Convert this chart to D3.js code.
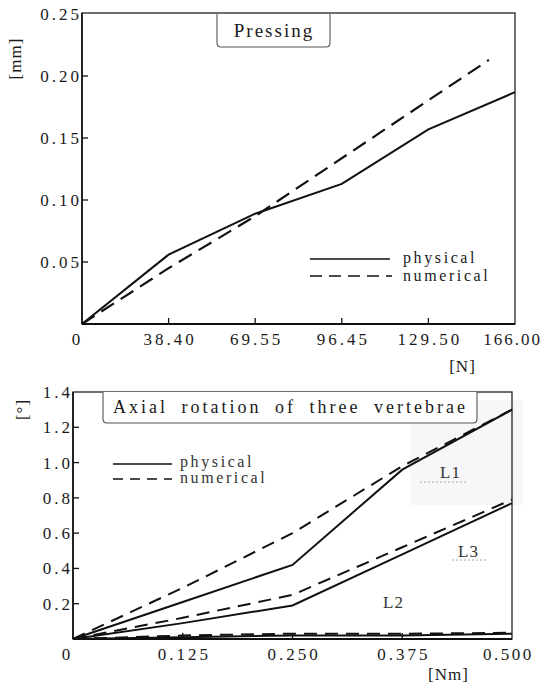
<!DOCTYPE html>
<html><head><meta charset="utf-8">
<script src="https://cdn.jsdelivr.net/npm/d3@7"></script>
<style>
html,body{margin:0;padding:0;background:#fff;}
text{font-family:"Liberation Serif","Times New Roman",serif;fill:#1a1a1a;}
</style></head>
<body>
<svg id="c" width="542" height="686"></svg>
<script>
// ---------- Top chart data (Pressing) ----------
const topXTicks = [0, 38.40, 69.55, 96.45, 129.50, 166.00];
const topXTickLabels = ["0", "38.40", "69.55", "96.45", "129.50", "166.00"];
const topYTicks = [0.05, 0.10, 0.15, 0.20, 0.25];
const topYTickLabels = ["0.05", "0.10", "0.15", "0.20", "0.25"];
const topPhysX = [0, 38.40, 69.55, 96.45, 129.50, 166.00];
const topPhysY = [0, 0.056, 0.089, 0.113, 0.157, 0.187];
const topNumX = [0, 38.40, 69.55, 155.0];
const topNumY = [0, 0.045, 0.087, 0.213];

// ---------- Bottom chart data (Axial rotation) ----------
const botXTicks = [0, 0.125, 0.250, 0.375, 0.500];
const botXTickLabels = ["0", "0.125", "0.250", "0.375", "0.500"];
const botYTicks = [0.2, 0.4, 0.6, 0.8, 1.0, 1.2, 1.4];
const botYTickLabels = ["0.2", "0.4", "0.6", "0.8", "1.0", "1.2", "1.4"];
const botX = [0, 0.125, 0.250, 0.375, 0.500];
const L1phys = [0, 0.21, 0.42, 0.96, 1.30];
const L1num  = [0, 0.29, 0.60, 0.98, 1.30];
const L3phys = [0, 0.09, 0.19, 0.48, 0.77];
const L3num  = [0, 0.12, 0.25, 0.52, 0.79];
const L2phys = [0, 0.01, 0.02, 0.02, 0.03];
const L2num  = [0, 0.02, 0.03, 0.03, 0.035];

const svg = d3.select("#c");
const LS = 3; // letter spacing of numbers

function txt(g, x, y, s, opt = {}) {
  const ls = opt.ls ?? LS;
  let dx = 0;
  if (opt.anchor === "end") dx = ls;
  if (opt.anchor === "middle") dx = ls / 2;
  return g.append("text").attr("x", x + dx).attr("y", y)
    .attr("text-anchor", opt.anchor || "start")
    .style("font-size", (opt.size || 17) + "px")
    .style("letter-spacing", ls + "px")
    .style("word-spacing", (opt.ws || 0) + "px")
    .text(s);
}

function drawLine(g, xs, ys, x, y, dashed, w) {
  const pts = xs.map((d, i) => [d, ys[i]]);
  g.append("path").datum(pts)
    .attr("d", d3.line().x(d => x(d[0])).y(d => y(d[1])))
    .attr("fill", "none").attr("stroke", "#111")
    .attr("stroke-width", w || 2)
    .attr("stroke-dasharray", dashed ? dashed : null);
}

// ================= TOP CHART =================
{
  const L = 82, R = 515, T = 14, B = 324;
  const x = d3.scaleLinear().domain(topXTicks)
    .range(topXTicks.map((d, i) => L + i * (R - L) / (topXTicks.length - 1)));
  const y = d3.scaleLinear().domain([0, 0.25]).range([B, T]);
  const g = svg.append("g");

  g.append("rect").attr("x", L).attr("y", T - 1).attr("width", R - L).attr("height", B - T + 1)
    .attr("fill", "none").attr("stroke", "#222").attr("stroke-width", 1.3);
  g.append("line").attr("x1", L).attr("x2", R).attr("y1", B).attr("y2", B)
    .attr("stroke", "#111").attr("stroke-width", 1.8);
  g.append("line").attr("x1", L).attr("x2", L).attr("y1", T - 1).attr("y2", B)
    .attr("stroke", "#111").attr("stroke-width", 1.6);

  topXTicks.slice(1, -1).forEach(v => {
    g.append("line").attr("x1", x(v)).attr("x2", x(v)).attr("y1", B).attr("y2", B - 6)
      .attr("stroke", "#111").attr("stroke-width", 1.3);
  });
  topYTicks.slice(0, -1).forEach(v => {
    g.append("line").attr("x1", L).attr("x2", L + 6).attr("y1", y(v)).attr("y2", y(v))
      .attr("stroke", "#111").attr("stroke-width", 1.3);
  });

  topYTickLabels.forEach((s, i) => txt(g, L - 3, y(topYTicks[i]) + 6, s, {anchor: "end"}));
  topXTickLabels.forEach((s, i) => {
    if (i === 0) txt(g, 76, 345, s, {anchor: "middle"});
    else if (i === 5) txt(g, 540, 345, s, {anchor: "end", ls: 2});
    else txt(g, x(topXTicks[i]), 345, s, {anchor: "middle"});
  });

  txt(g, 462, 372, "[N]", {anchor: "middle", ls: 1});
  txt(g, 0, 0, "[mm]", {anchor: "middle", ls: 1})
    .attr("transform", "translate(21,59) rotate(-90)");

  g.append("path")
    .attr("d", `M217,${T} L217,43 Q217,47 221,47 L326,47 Q330,47 330,43 L330,${T}`)
    .attr("fill", "#fff").attr("stroke", "#555").attr("stroke-width", 1.1);
  txt(g, 273, 37, "Pressing", {anchor: "middle", size: 19, ls: 2});

  drawLine(g, topPhysX, topPhysY, x, y, null, 2.1);
  drawLine(g, topNumX, topNumY, x, y, "15,8", 2.2);

  g.append("line").attr("x1", 310).attr("x2", 390).attr("y1", 259).attr("y2", 259)
    .attr("stroke", "#111").attr("stroke-width", 1.5);
  g.append("line").attr("x1", 310).attr("x2", 392).attr("y1", 276).attr("y2", 276)
    .attr("stroke", "#111").attr("stroke-width", 1.5).attr("stroke-dasharray", "12,7");
  txt(g, 403, 263, "physical", {size: 16, ls: 2.6});
  txt(g, 403, 281, "numerical", {size: 16, ls: 2.6});
}

// ================= BOTTOM CHART =================
{
  const L = 73, R = 512, T = 392, B = 639;
  const x = d3.scaleLinear().domain([0, 0.5]).range([L, R]);
  const y = d3.scaleLinear().domain([0, 1.4]).range([B, T]);
  const g = svg.append("g");

  g.append("rect").attr("x", 410).attr("y", 400).attr("width", 113).attr("height", 105)
    .attr("fill", "#f7f7f7");

  g.append("rect").attr("x", L).attr("y", T).attr("width", R - L).attr("height", B - T)
    .attr("fill", "none").attr("stroke", "#222").attr("stroke-width", 1.3);
  g.append("line").attr("x1", L).attr("x2", R).attr("y1", B).attr("y2", B)
    .attr("stroke", "#111").attr("stroke-width", 1.8);
  g.append("line").attr("x1", L).attr("x2", L).attr("y1", T).attr("y2", B)
    .attr("stroke", "#111").attr("stroke-width", 1.6);

  botXTicks.slice(1, -1).forEach(v => {
    g.append("line").attr("x1", x(v)).attr("x2", x(v)).attr("y1", B).attr("y2", B - 6)
      .attr("stroke", "#111").attr("stroke-width", 1.3);
  });
  botYTicks.slice(0, -1).forEach(v => {
    g.append("line").attr("x1", L).attr("x2", L + 6).attr("y1", y(v)).attr("y2", y(v))
      .attr("stroke", "#111").attr("stroke-width", 1.3);
  });

  botYTickLabels.forEach((s, i) => txt(g, L - 3, y(botYTicks[i]) + 6, s, {anchor: "end"}));
  botXTickLabels.forEach((s, i) => {
    if (i === 0) txt(g, 66, 660, s, {anchor: "middle"});
    else if (i === 4) txt(g, 507, 660, s, {anchor: "middle", ls: 2.5});
    else txt(g, x(botXTicks[i]), 660, s, {anchor: "middle"});
  });

  txt(g, 448, 680, "[Nm]", {anchor: "middle", ls: 1});
  txt(g, 0, 0, "[°]", {anchor: "middle", ls: 1})
    .attr("transform", "translate(28,410) rotate(-90)");

  g.append("path")
    .attr("d", `M103,${T} L103,419 Q103,423 107,423 L473,423 Q477,423 477,419 L477,${T}`)
    .attr("fill", "#fff").attr("stroke", "#555").attr("stroke-width", 1.1);
  txt(g, 289, 413, "Axial rotation of three vertebrae", {anchor: "middle", size: 18, ls: 3, ws: 6});

  drawLine(g, botX, L1phys, x, y, null, 2);
  drawLine(g, botX, L1num, x, y, "13,8", 2);
  drawLine(g, botX, L3phys, x, y, null, 2);
  drawLine(g, botX, L3num, x, y, "13,8", 2);
  drawLine(g, botX, L2phys, x, y, null, 2);
  drawLine(g, botX, L2num, x, y, "13,8", 2);

  g.append("line").attr("x1", 113).attr("x2", 172).attr("y1", 464).attr("y2", 464)
    .attr("stroke", "#111").attr("stroke-width", 1.5);
  g.append("line").attr("x1", 113).attr("x2", 172).attr("y1", 479).attr("y2", 479)
    .attr("stroke", "#111").attr("stroke-width", 1.5).attr("stroke-dasharray", "10,7");
  txt(g, 180, 467, "physical", {size: 16, ls: 2.6}).style("fill", "#333");
  txt(g, 180, 483, "numerical", {size: 16, ls: 2.6}).style("fill", "#333");

  txt(g, 450, 478, "L1", {anchor: "middle", size: 17, ls: 1}).style("fill", "#333");
  g.append("line").attr("x1", 420).attr("x2", 468).attr("y1", 482).attr("y2", 482)
    .attr("stroke", "#aaa").attr("stroke-width", 1).attr("stroke-dasharray", "2,2");
  txt(g, 468, 557, "L3", {anchor: "middle", size: 17, ls: 1}).style("fill", "#333");
  g.append("line").attr("x1", 452).attr("x2", 486).attr("y1", 560).attr("y2", 560)
    .attr("stroke", "#aaa").attr("stroke-width", 1).attr("stroke-dasharray", "2,2");
  txt(g, 393, 608, "L2", {anchor: "middle", size: 17, ls: 1}).style("fill", "#333");
}
</script>
</body></html>
